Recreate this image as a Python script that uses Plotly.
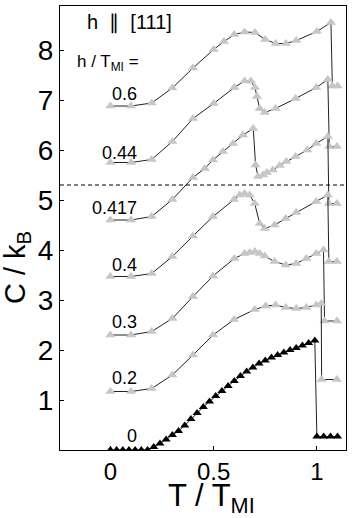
import plotly.graph_objects as go

# ---- data (T / T_MI, C / k_B with offsets as in the figure) ----
T_06 = [0, 0.1, 0.2, 0.3, 0.4, 0.5, 0.55, 0.6, 0.65, 0.7, 0.75, 0.8, 0.85, 0.9, 1.0, 1.068, 1.075, 1.10]
C_06 = [6.88, 6.88, 6.94, 7.24, 7.64, 8.01, 8.17, 8.31, 8.36, 8.35, 8.21, 8.13, 8.13, 8.19, 8.37, 8.55, 7.28, 7.28]

T_044 = [0, 0.1, 0.2, 0.3, 0.4, 0.5, 0.6, 0.65, 0.68, 0.70, 0.71, 0.723, 0.747, 0.80, 0.897, 0.997, 1.053, 1.06, 1.097]
C_044 = [5.75, 5.75, 5.81, 6.17, 6.63, 6.93, 7.25, 7.38, 7.38, 7.25, 7.07, 6.83, 6.75, 6.83, 7.03, 7.25, 7.41, 6.07, 6.07]

T_0417 = [0, 0.1, 0.2, 0.3, 0.4, 0.457, 0.497, 0.545, 0.594, 0.642, 0.692, 0.703, 0.715, 0.739, 0.758, 0.787,
          0.82, 0.852, 0.897, 0.953, 0.997, 1.053, 1.058, 1.097]
C_0417 = [4.6, 4.6, 4.67, 5.01, 5.45, 5.63, 5.8, 5.97, 6.13, 6.3, 6.43, 5.7, 5.47, 5.5, 5.55, 5.6,
          5.69, 5.77, 5.87, 6.0, 6.13, 6.27, 4.93, 4.93]

T_04 = [0, 0.1, 0.2, 0.3, 0.4, 0.497, 0.599, 0.626, 0.65, 0.675, 0.699, 0.723, 0.747, 0.795, 0.849, 0.90,
        0.997, 1.053, 1.058, 1.097]
C_04 = [3.47, 3.47, 3.53, 3.87, 4.28, 4.67, 5.01, 5.1, 5.13, 5.1, 4.93, 4.53, 4.43, 4.5, 4.63, 4.75,
        4.97, 5.1, 3.77, 3.77]

T_03 = [0, 0.1, 0.2, 0.3, 0.4, 0.497, 0.6, 0.65, 0.675, 0.7, 0.723, 0.747, 0.795, 0.849, 0.90, 0.949,
        0.997, 1.032, 1.037, 1.097]
C_03 = [2.3, 2.3, 2.37, 2.63, 3.07, 3.48, 3.83, 3.93, 3.95, 3.97, 3.93, 3.88, 3.77, 3.7, 3.73, 3.83,
        3.93, 4.0, 2.58, 2.58]

T_02 = [0, 0.1, 0.2, 0.3, 0.4, 0.497, 0.599, 0.699, 0.752, 0.80, 0.849, 0.90, 0.949, 0.997, 1.021, 1.023, 1.097]
C_02 = [1.17, 1.17, 1.23, 1.5, 1.9, 2.3, 2.61, 2.81, 2.88, 2.9, 2.85, 2.83, 2.85, 2.9, 2.93, 1.41, 1.41]

T_0 = [0, 0.03, 0.06, 0.09, 0.12, 0.15, 0.18, 0.21, 0.24, 0.27, 0.30, 0.33, 0.36, 0.39, 0.42, 0.45, 0.48,
       0.51, 0.54, 0.57, 0.60, 0.63, 0.66, 0.69, 0.72, 0.75, 0.78, 0.81, 0.84, 0.87, 0.90, 0.93, 0.96, 0.99,
       1.0, 1.033, 1.066, 1.10]
C_0 = [0, 0, 0, 0, 0, 0, 0, 0.06, 0.13, 0.21, 0.30, 0.38, 0.49, 0.62, 0.74, 0.86, 0.97,
       1.08, 1.18, 1.28, 1.38, 1.48, 1.57, 1.65, 1.73, 1.79, 1.85, 1.90, 1.95, 2.00, 2.04, 2.09, 2.14, 2.19,
       0.27, 0.27, 0.27, 0.27]

field_labels = ["0.6", "0.44", "0.417", "0.4", "0.3", "0.2", "0"]
label_y = [7.12, 5.94, 4.84, 3.70, 2.56, 1.44, 0.28]
dashed_level = 5.3

x_ticks = [0, 0.5, 1]
x_ticktext = ["0", "0.5", "1"]
y_ticks = [1, 2, 3, 4, 5, 6, 7, 8]

GRAY = "#c6c6c6"
FONT = "Liberation Sans, Arial, sans-serif"

fig = go.Figure()

gray_series = [(T_06, C_06), (T_044, C_044), (T_0417, C_0417), (T_04, C_04), (T_03, C_03), (T_02, C_02)]
for T, C in gray_series:
    fig.add_trace(go.Scatter(
        x=T, y=C, mode="lines+markers",
        line=dict(color="#222222", width=1),
        marker=dict(symbol="triangle-up", size=9, color=GRAY, line=dict(width=0)),
        showlegend=False, hoverinfo="skip"))

fig.add_trace(go.Scatter(
    x=T_0, y=C_0, mode="lines+markers",
    line=dict(color="#222222", width=1),
    marker=dict(symbol="triangle-up", size=8, color="black", line=dict(width=0)),
    showlegend=False, hoverinfo="skip"))

fig.add_shape(type="line", xref="paper", yref="y", x0=0, x1=1, y0=dashed_level, y1=dashed_level,
              line=dict(color="black", width=1, dash="4px,3px"))

for lab, ly in zip(field_labels, label_y):
    fig.add_annotation(x=0.137, y=ly, xref="x", yref="y", text=lab, showarrow=False,
                       xanchor="right", yanchor="middle", font=dict(size=18, color="black", family=FONT))

fig.add_annotation(x=-0.123, y=8.56, xref="x", yref="y", text="h\u00a0\u00a0\u2225\u00a0\u00a0[111]",
                   showarrow=False, xanchor="left", yanchor="middle",
                   font=dict(size=20, color="black", family=FONT))
fig.add_annotation(x=-0.172, y=7.74, xref="x", yref="y", text="h / T<sub>MI</sub> =", showarrow=False,
                   xanchor="left", yanchor="middle", font=dict(size=17, color="black", family=FONT))

# axis titles
fig.add_annotation(x=0.53, y=-0.108, xref="paper", yref="paper", text="T / T<sub>MI</sub>", showarrow=False,
                   xanchor="center", yanchor="middle", font=dict(size=31, color="black", family=FONT))
fig.add_annotation(x=-0.150, y=0.41, xref="paper", yref="paper", text="C / k<sub>B</sub>", showarrow=False,
                   textangle=-90, xanchor="center", yanchor="middle",
                   font=dict(size=29, color="black", family=FONT))

fig.update_xaxes(range=[-0.244, 1.141], tickvals=x_ticks, ticktext=x_ticktext, automargin=False,
                 ticks="inside", ticklen=4, tickcolor="black", showgrid=False, zeroline=False,
                 showline=True, linecolor="black", linewidth=1, mirror=True,
                 tickfont=dict(size=24, color="black", family=FONT))
fig.update_yaxes(range=[0, 8.88], tickvals=y_ticks, automargin=False,
                 ticks="inside", ticklen=4, tickcolor="black", showgrid=False, zeroline=False,
                 showline=True, linecolor="black", linewidth=1, mirror=True,
                 tickfont=dict(size=28, color="black", family=FONT))

fig.update_layout(width=356, height=518, margin=dict(l=60, r=10, t=6, b=68),
                  paper_bgcolor="white", plot_bgcolor="white", font=dict(family=FONT))

fig.write_html("out.html", config={"displayModeBar": False},
               post_script="document.body.style.margin='0';")
